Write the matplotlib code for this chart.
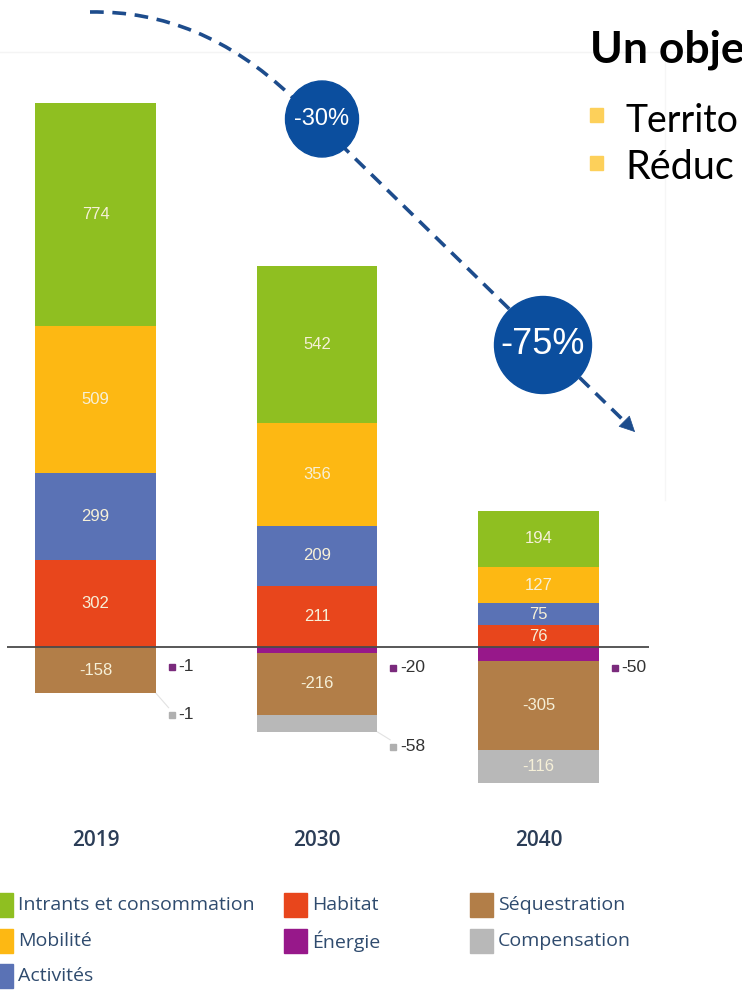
import numpy as np
import matplotlib
matplotlib.use('Agg')
from matplotlib import pyplot as plt
from matplotlib.path import Path
from matplotlib.patches import PathPatch, Ellipse, Rectangle

# data (kt CO2e)
years = ['2019', '2030', '2040']
intrants = [774, 542, 194]
mobilite = [509, 356, 127]
activites = [299, 209, 75]
habitat = [302, 211, 76]
energie = [-1, -20, -50]
sequestration = [-158, -216, -305]
compensation = [-1, -58, -116]

pos_series = [('Habitat', habitat, '#e8461c'),
              ('Activités', activites, '#5a72b5'),
              ('Mobilité', mobilite, '#fdb813'),
              ('Intrants et consommation', intrants, '#8fbf21')]
neg_series = [('Énergie', energie, '#97188a'),
              ('Séquestration', sequestration, '#b27e48'),
              ('Compensation', compensation, '#b8b8b8')]
colors = {n: c for n, _, c in pos_series + neg_series}

# where the small values are written beside the bars
side_y_energie = [-68, -72, -72]
side_y_comp = [-235, -346, None]

fig = plt.figure(figsize=(7.42, 9.9), dpi=100)

# chart axes: x pixel = 95.5 + 221.5*x, baseline at 343px from bottom, 0.289 px/unit
ax = fig.add_axes([0.0093, 0.05455, 0.8657, 0.87576])
ax.set_xlim(-0.4, 2.5)
ax.set_ylim(-1000, 2000)
ax.axis('off')

x = np.arange(len(years))
w = 0.546
lab_color = '#f6f0d8'

bottom = np.zeros(len(years))
for name, vals, c in pos_series:
    bars = ax.bar(x, vals, w, bottom=bottom, color=c, zorder=2)
    ax.bar_label(bars, labels=[str(v) if abs(v) >= 70 else '' for v in vals],
                 label_type='center', color=lab_color, fontsize=12,
                 family='Liberation Sans')
    bottom += np.array(vals)

bottom = np.zeros(len(years))
for name, vals, c in neg_series:
    bars = ax.bar(x, vals, w, bottom=bottom, color=c, zorder=2)
    ax.bar_label(bars, labels=[str(v) if abs(v) >= 70 else '' for v in vals],
                 label_type='center', color=lab_color, fontsize=12,
                 family='Liberation Sans')
    bottom += np.array(vals)

ax.axhline(0, color='#4a4a4a', lw=1.3, zorder=3)

# small values written beside the bars
for i in range(len(years)):
    v = energie[i]
    ax.plot(x[i] + 0.345, side_y_energie[i], 's', ms=4.5, color='#7a2a7c', zorder=3)
    ax.text(x[i] + 0.375, side_y_energie[i], str(v), va='center', ha='left',
            fontsize=12.5, color='#333333', family='Liberation Sans')
    if side_y_comp[i] is not None:
        v = compensation[i]
        ax.plot(x[i] + 0.345, side_y_comp[i], 's', ms=4.5, color='#b0b0b0', zorder=3)
        ax.text(x[i] + 0.375, side_y_comp[i], str(v), va='center', ha='left',
                fontsize=12.5, color='#333333', family='Liberation Sans')
        ybot = energie[i] + sequestration[i] + compensation[i]
        ax.plot([x[i] + w / 2, x[i] + 0.33], [ybot, side_y_comp[i] + 25],
                color='#e2e2e2', lw=0.8, zorder=1)

for i, yr in enumerate(years):
    ax.text(x[i], -668, yr, ha='center', va='center', fontsize=15,
            family='Open Sans', weight='semibold', color='#2b3d57')

# overlay in pixel units for the slide decorations
ov = fig.add_axes([0, 0, 1, 1], zorder=5)
ov.set_xlim(0, 742)
ov.set_ylim(990, 0)
ov.axis('off')
ov.patch.set_alpha(0)

ov.plot([0, 742], [52, 52], color='#f4f4f4', lw=1, zorder=0)
ov.plot([665, 665], [52, 500], color='#f6f6f6', lw=1, zorder=0)

blue = '#1d4c8c'
curve = Path([(90, 12), (200, 10), (290, 95), (622, 419)],
             [Path.MOVETO, Path.CURVE3, Path.CURVE3, Path.LINETO])
pp = PathPatch(curve, fc='none', ec=blue, lw=2.6, linestyle=(0, (3.8, 2.4)))
ov.add_patch(pp)
ov.annotate('', xy=(637, 434), xytext=(624, 421),
            arrowprops=dict(arrowstyle='-|>', mutation_scale=26, color=blue, lw=0.5))

ov.add_patch(Ellipse((322, 119), 73, 76, color='#0b4e9e', zorder=3))
ov.text(322, 119, '-30%', color='white', ha='center', va='center', fontsize=17,
        family='Liberation Sans', zorder=4)
ov.add_patch(Ellipse((543, 345), 97, 97, color='#0b4e9e', zorder=3))
ov.text(543, 345, '-75%', color='white', ha='center', va='center', fontsize=26,
        family='Liberation Sans', zorder=4)

# slide text on the right, cut by the edge of the screenshot
ov.text(590, 63, 'Un obje', fontsize=32, weight='bold', family='Lato',
        color='black', va='baseline', ha='left')
ov.add_patch(Rectangle((590, 108), 13, 14, color='#fdd05a'))
ov.text(625, 132, 'Territo', fontsize=27, family='Lato', color='black',
        va='baseline', ha='left')
ov.add_patch(Rectangle((590, 156), 13, 14, color='#fdd05a'))
ov.text(625, 179, 'Réduc', fontsize=28.5, family='Lato', color='black',
        va='baseline', ha='left')

# legend
leg_cols = [['Intrants et consommation', 'Mobilité', 'Activités'],
            ['Habitat', 'Énergie'],
            ['Séquestration', 'Compensation']]
col_x = [-10, 284, 470]
row_y = [905, 941, 976]
for cx, names in zip(col_x, leg_cols):
    for ry, name in zip(row_y, names):
        ov.add_patch(Rectangle((cx, ry - 12), 23, 24, color=colors[name]))
        ov.text(cx + 28, ry, name, fontsize=14, family='Open Sans',
                weight='medium', color='#2f4b6e', va='center', ha='left')

fig.savefig('out.png', dpi=100)
